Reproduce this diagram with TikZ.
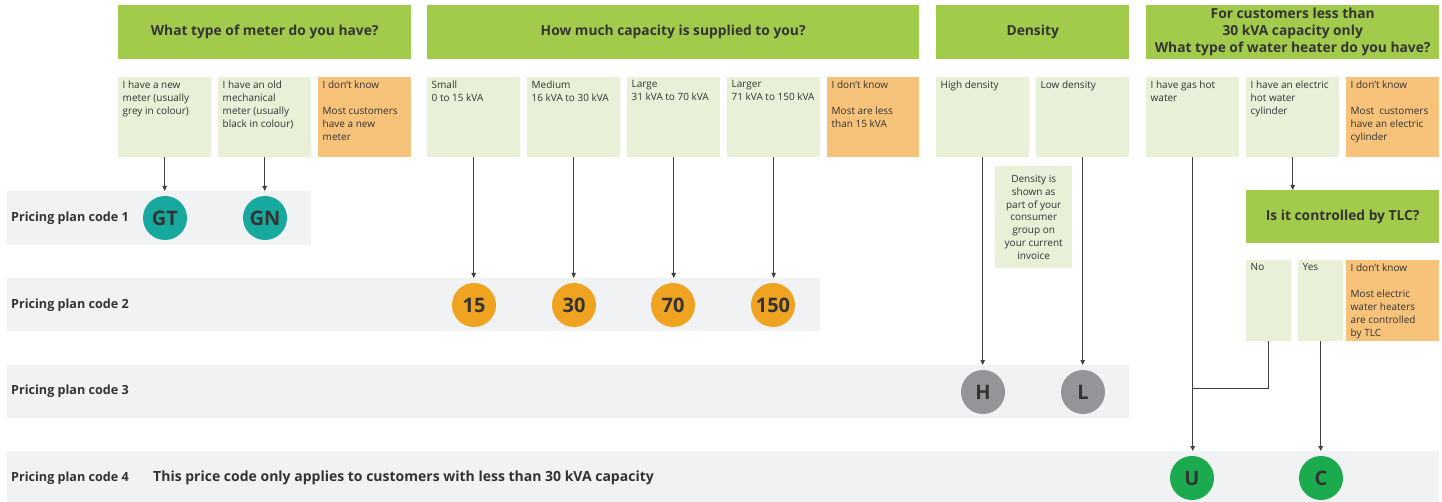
\documentclass[tikz,border=0pt]{standalone}
\usepackage{fontspec}
\setmainfont{Open Sans}
\usetikzlibrary{arrows.meta}
\definecolor{hdrgreen}{HTML}{A2CB4C}
\definecolor{optgreen}{HTML}{E8F0D8}
\definecolor{optorange}{HTML}{F7C27A}
\definecolor{bandgray}{HTML}{F1F2F4}
\definecolor{teal}{HTML}{17A89E}
\definecolor{gold}{HTML}{EFA321}
\definecolor{cgray}{HTML}{939598}
\definecolor{cgreen}{HTML}{1BAA4E}
\definecolor{txt}{HTML}{333333}
\definecolor{linec}{HTML}{404040}
\tikzset{
  boxbase/.style={draw=none, inner sep=0pt, anchor=north west},
  opttext/.style={anchor=north west, inner xsep=4.5pt, inner ysep=3.5pt, align=left, text=txt,
    font=\fontsize{10}{13}\selectfont},
  hdrtext/.style={align=center, text=txt, font=\bfseries\fontsize{13.8}{17}\selectfont},
  bandlabel/.style={anchor=west, text=txt, inner sep=0pt, font=\bfseries\fontsize{12.6}{15}\selectfont},
  notelabel/.style={anchor=west, text=txt, inner sep=0pt, font=\bfseries\fontsize{14}{16}\selectfont},
  codecirc/.style={circle, minimum size=44pt, inner sep=0pt, text=txt, font=\bfseries\fontsize{20}{22}\selectfont},
  arr/.style={draw=linec, line width=0.9pt, -{Triangle[length=5pt,width=4.5pt]}},
  conn/.style={draw=linec, line width=0.9pt},
}
% \mkbox{name}{x1}{y1}{x2}{y2}{fill}
\newcommand{\mkbox}[6]{\node[boxbase, fill=#6, minimum width={(#4-#2)*1pt}, minimum height={(#5-#3)*1pt}] (#1) at (#2pt,-#3pt) {};}
\begin{document}
\begin{tikzpicture}[x=1pt,y=1pt]
\useasboundingbox (0,0) rectangle (1442,-502);
% bands
\mkbox{band1}{7}{191}{311}{245}{bandgray}
\mkbox{band2}{7}{278}{820}{331}{bandgray}
\mkbox{band3}{7}{365}{1129}{418}{bandgray}
\mkbox{band4}{7}{451}{1439}{502}{bandgray}
\node[bandlabel] (lab1) at (11,-218) {Pricing plan code 1};
\node[bandlabel] (lab2) at (11,-305) {Pricing plan code 2};
\node[bandlabel] (lab3) at (11,-391) {Pricing plan code 3};
\node[bandlabel] (lab4) at (11,-478) {Pricing plan code 4};
\node[notelabel] (lab4b) at (153,-478) {This price code only applies to customers with less than 30 kVA capacity};
% headers
\mkbox{h1}{118}{5}{411}{59}{hdrgreen}
\node[hdrtext] (h1t) at (h1.center) {What type of meter do you have?};
\mkbox{h2}{427}{5}{919}{59}{hdrgreen}
\node[hdrtext] (h2t) at (h2.center) {How much capacity is supplied to you?};
\mkbox{h3}{936}{5}{1129}{59}{hdrgreen}
\node[hdrtext] (h3t) at (h3.center) {Density};
\mkbox{h4}{1146}{5}{1439}{59}{hdrgreen}
\node[hdrtext] (h4t) at (h4.center) {For customers less than\\30 kVA capacity only\\What type of water heater do you have?};
\mkbox{h5}{1246}{190}{1439}{243}{hdrgreen}
\node[hdrtext] (h5t) at (h5.center) {Is it controlled by TLC?};
% meter options
\mkbox{m1}{118}{77}{211}{157}{optgreen}
\node[opttext] (m1t) at (m1.north west) {I have a new\\meter (usually\\grey in colour)};
\mkbox{m2}{218}{77}{311}{157}{optgreen}
\node[opttext] (m2t) at (m2.north west) {I have an old\\mechanical\\meter (usually\\black in colour)};
\mkbox{m3}{318}{77}{411}{157}{optorange}
\node[opttext] (m3t) at (m3.north west) {I don’t know\\[13pt]Most customers\\have a new\\meter};
% capacity options
\mkbox{c1}{427}{77}{520}{157}{optgreen}
\node[opttext] (c1t) at (c1.north west) {Small\\0 to 15 kVA};
\mkbox{c2}{527}{77}{620}{157}{optgreen}
\node[opttext] (c2t) at (c2.north west) {Medium\\16 kVA to 30 kVA};
\mkbox{c3}{627}{77}{720}{157}{optgreen}
\node[opttext] (c3t) at (c3.north west) {Large\\31 kVA to 70 kVA};
\mkbox{c4}{727}{77}{820}{157}{optgreen}
\node[opttext] (c4t) at (c4.north west) {Larger\\71 kVA to 150 kVA};
\mkbox{c5}{827}{77}{919}{157}{optorange}
\node[opttext] (c5t) at (c5.north west) {I don’t know\\[13pt]Most are less\\than 15 kVA};
% density options
\mkbox{d1}{936}{77}{1029}{157}{optgreen}
\node[opttext] (d1t) at (d1.north west) {High density};
\mkbox{d2}{1036}{77}{1129}{157}{optgreen}
\node[opttext] (d2t) at (d2.north west) {Low density};
\mkbox{dn}{995}{166}{1072}{268}{optgreen}
\node[align=center, text=txt, font=\fontsize{10}{12.8}\selectfont, inner sep=0pt] (dnt) at (dn.center) {Density is\\shown as\\part of your\\consumer\\group on\\your current\\invoice};
% water options
\mkbox{w1}{1146}{77}{1239}{157}{optgreen}
\node[opttext] (w1t) at (w1.north west) {I have gas hot\\water};
\mkbox{w2}{1246}{77}{1339}{157}{optgreen}
\node[opttext] (w2t) at (w2.north west) {I have an electric\\hot water\\cylinder};
\mkbox{w3}{1346}{77}{1439}{157}{optorange}
\node[opttext] (w3t) at (w3.north west) {I don’t know\\[13pt]Most\ \ customers\\have an electric\\cylinder};
% TLC options
\mkbox{t1}{1246}{260}{1291}{341}{optgreen}
\node[opttext] (t1t) at (t1.north west) {No};
\mkbox{t2}{1298}{260}{1343}{341}{optgreen}
\node[opttext] (t2t) at (t2.north west) {Yes};
\mkbox{t3}{1346}{260}{1439}{341}{optorange}
\node[opttext] (t3t) at (t3.north west) {I don’t know\\[13pt]Most electric\\water heaters\\are controlled\\by TLC};
% circles
\node[codecirc, fill=teal] (gt) at (165,-218) {GT};
\node[codecirc, fill=teal] (gn) at (265,-218) {GN};
\node[codecirc, fill=gold] (k15) at (474,-305) {15};
\node[codecirc, fill=gold] (k30) at (574,-305) {30};
\node[codecirc, fill=gold] (k70) at (673,-305) {70};
\node[codecirc, fill=gold] (k150) at (773,-305) {150};
\node[codecirc, fill=cgray] (ch) at (983,-392) {H};
\node[codecirc, fill=cgray] (cl) at (1083,-392) {L};
\node[codecirc, fill=cgreen] (cu) at (1192,-478) {U};
\node[codecirc, fill=cgreen] (cc) at (1321,-478) {C};
% connectors
\draw[arr] (m1.south) -- (m1.south |- band1.north);
\draw[arr] (m2.south) -- (m2.south |- band1.north);
\draw[arr] (c1.south) -- (c1.south |- band2.north);
\draw[arr] (c2.south) -- (c2.south |- band2.north);
\draw[arr] (c3.south) -- (c3.south |- band2.north);
\draw[arr] (c4.south) -- (c4.south |- band2.north);
\draw[arr] (d1.south) -- (d1.south |- band3.north);
\draw[arr] (d2.south) -- (d2.south |- band3.north);
\draw[arr] (w1.south) -- (w1.south |- band4.north);
\draw[arr] (w2.south) -- (h5.north -| w2.south);
\coordinate (join) at (w1.south |- 0,-388);
\draw[conn] (t1.south) -- (t1.south |- join) -- (join);
\draw[arr] (t2.south) -- (t2.south |- band4.north);
\end{tikzpicture}
\end{document}
